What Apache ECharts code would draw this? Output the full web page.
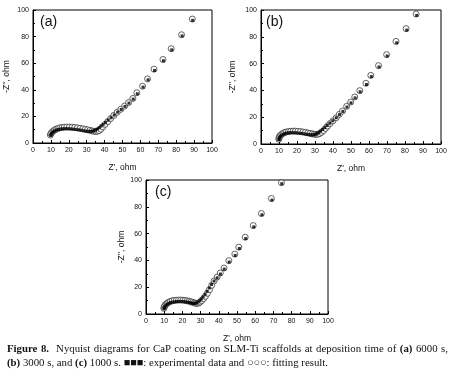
<!DOCTYPE html>
<html>
<head>
<meta charset="utf-8">
<script src="https://cdn.jsdelivr.net/npm/echarts@6/dist/echarts.min.js"></script>
<style>
html,body{margin:0;padding:0;background:#fff;}
#chart{position:absolute;left:0;top:0;width:455px;height:379px;}
#cap{position:absolute;left:7px;top:342px;width:441px;font-family:"Liberation Serif","DejaVu Serif",serif;font-size:10.8px;line-height:13.5px;color:#111;}
#cap .l1{display:block;text-align:justify;text-align-last:justify;white-space:nowrap;}
#cap .l2{display:block;white-space:nowrap;}
#cap b{font-weight:bold;}
</style>
</head>
<body>
<div id="chart"></div>
<div id="cap"><span class="l1"><b>Figure 8.</b>&nbsp; Nyquist diagrams for CaP coating on SLM-Ti scaffolds at deposition time of <b>(a)</b> 6000 s,</span><span class="l2"><b>(b)</b> 3000 s, and <b>(c)</b> 1000 s. ■■■: experimental data and ○○○: fitting result.</span></div>
<script>
// Panel (a) 6000 s
const fitA_x = [9.7, 10.0, 10.5, 11.2, 12.0, 12.9, 13.9, 15.0, 16.2, 17.5, 18.9, 20.3, 21.8, 23.3, 24.8, 26.3, 27.8, 29.2, 30.5, 31.8, 33.0, 34.1, 35.1, 36.0, 36.9, 37.9, 39.0, 40.3, 41.8, 43.4, 45.2, 47.1, 49.1, 51.2, 53.4, 55.8, 58.0, 61.2, 64.0, 67.6, 72.6, 77.2, 83.0, 89.0];
const fitA_y = [6.0, 7.0, 8.0, 8.9, 9.7, 10.4, 10.9, 11.4, 11.7, 11.9, 12.0, 12.0, 11.9, 11.7, 11.4, 11.1, 10.7, 10.3, 9.9, 9.5, 9.1, 8.8, 8.7, 8.8, 9.3, 10.4, 12.1, 14.0, 16.1, 18.4, 20.8, 23.2, 25.4, 27.8, 30.4, 33.5, 37.8, 42.7, 48.2, 55.5, 62.8, 70.9, 81.4, 93.2];
const expA_x = [9.9, 10.2, 10.7, 11.4, 12.2, 13.1, 14.1, 15.2, 16.4, 17.7, 19.1, 20.5, 22.0, 23.5, 25.0, 26.5, 28.0, 29.4, 30.7, 31.9, 33.0, 34.0, 35.0, 35.9, 36.9, 38.0, 39.2, 40.5, 42.0, 43.6, 45.4, 47.3, 49.3, 51.4, 53.6, 56.0, 58.3, 61.5, 64.3, 67.9, 72.9, 77.5, 83.3, 89.2];
const expA_y = [5.8, 6.8, 7.7, 8.5, 9.2, 9.8, 10.2, 10.5, 10.7, 10.8, 10.8, 10.7, 10.5, 10.3, 10.0, 9.7, 9.3, 9.0, 8.8, 8.7, 8.8, 9.1, 9.7, 10.5, 11.5, 12.7, 14.0, 15.5, 17.2, 19.0, 21.0, 23.2, 25.2, 27.5, 30.0, 33.0, 37.0, 42.0, 47.5, 54.5, 61.8, 70.0, 80.5, 92.2];

// Panel (b) 3000 s
const fitB_x = [9.9, 10.0, 10.3, 10.8, 11.5, 12.3, 13.2, 14.2, 15.3, 16.5, 17.8, 19.1, 20.5, 21.9, 23.3, 24.7, 26.0, 27.3, 28.5, 29.6, 30.6, 31.6, 32.6, 33.6, 34.7, 35.8, 37.0, 38.4, 40.0, 41.8, 43.5, 45.3, 47.6, 49.8, 52.1, 54.9, 58.3, 61.0, 65.3, 69.8, 75.0, 80.6, 86.2];
const fitB_y = [3.6, 4.6, 5.6, 6.5, 7.3, 8.0, 8.6, 9.0, 9.3, 9.5, 9.6, 9.6, 9.5, 9.3, 9.0, 8.7, 8.3, 7.9, 7.6, 7.3, 7.2, 7.3, 7.8, 8.7, 10.0, 11.6, 13.4, 15.3, 17.3, 19.6, 22.1, 24.6, 28.1, 31.3, 35.1, 39.8, 45.3, 51.2, 58.5, 66.7, 76.6, 86.1, 97.0];
const expB_x = [10.0, 10.1, 10.4, 10.9, 11.6, 12.4, 13.3, 14.3, 15.4, 16.6, 17.9, 19.2, 20.6, 22.0, 23.4, 24.8, 26.1, 27.3, 28.4, 29.4, 30.3, 31.2, 32.1, 33.1, 34.2, 35.4, 36.7, 38.2, 39.9, 41.8, 43.6, 45.5, 47.8, 50.0, 52.3, 55.1, 58.6, 61.3, 65.6, 70.1, 75.4, 81.0, 86.5];
const expB_y = [3.3, 4.3, 5.2, 6.0, 6.7, 7.3, 7.8, 8.2, 8.4, 8.5, 8.5, 8.4, 8.2, 8.0, 7.7, 7.4, 7.1, 6.9, 6.8, 6.9, 7.2, 7.8, 8.6, 9.6, 10.8, 12.2, 13.8, 15.5, 17.4, 19.6, 21.9, 24.3, 27.6, 30.7, 34.4, 39.0, 44.4, 50.3, 57.5, 65.7, 75.5, 85.0, 96.0];

// Panel (c) 1000 s
const fitC_x = [9.8, 10.0, 10.4, 11.0, 11.7, 12.5, 13.4, 14.4, 15.5, 16.7, 17.9, 19.1, 20.3, 21.5, 22.6, 23.7, 24.7, 25.6, 26.5, 27.3, 28.1, 28.9, 29.7, 30.6, 31.6, 32.6, 33.7, 34.9, 36.1, 37.4, 39.1, 40.8, 42.9, 45.5, 48.8, 51.0, 54.5, 58.9, 63.4, 68.9, 74.4];
const fitC_y = [4.2, 5.3, 6.3, 7.3, 8.1, 8.8, 9.4, 9.8, 10.1, 10.3, 10.4, 10.4, 10.3, 10.1, 9.8, 9.5, 9.1, 8.7, 8.3, 8.0, 7.9, 8.2, 8.9, 10.0, 11.4, 13.1, 15.4, 18.2, 21.4, 24.7, 27.6, 30.6, 34.3, 39.8, 44.7, 49.9, 57.3, 66.0, 75.0, 86.2, 98.0];
const expC_x = [9.9, 10.1, 10.5, 11.1, 11.8, 12.6, 13.5, 14.5, 15.6, 16.8, 18.0, 19.2, 20.4, 21.6, 22.7, 23.7, 24.6, 25.4, 26.2, 27.0, 27.8, 28.6, 29.5, 30.4, 31.4, 32.5, 33.6, 34.8, 36.0, 37.4, 39.1, 40.9, 43.0, 45.7, 49.0, 51.3, 54.8, 59.2, 63.7, 69.2, 74.6];
const expC_y = [3.9, 4.9, 5.8, 6.7, 7.4, 8.0, 8.5, 8.9, 9.1, 9.3, 9.4, 9.4, 9.3, 9.1, 8.9, 8.6, 8.3, 8.1, 7.9, 7.9, 8.2, 8.9, 9.9, 11.2, 12.8, 14.7, 16.9, 19.4, 22.0, 24.6, 27.0, 29.8, 33.5, 38.8, 43.7, 48.9, 56.3, 65.0, 74.0, 85.0, 97.2];

const panelLabels = ['(a)', '(b)', '(c)'];
const xTitle = "Z', ohm";
const yTitle = "-Z'', ohm";

const zip = (xs, ys) => xs.map((x, i) => [x, ys[i]]);
const FONT = '"Liberation Sans", Arial, sans-serif';

const grids = [
  {left: 33, top: 10, width: 179, height: 133},
  {left: 261, top: 10, width: 180, height: 134},
  {left: 146, top: 180, width: 182, height: 134}
];
const yGaps = [22, 24, 20];

function xAxis(i) {
  return {
    type: 'value', gridIndex: i, min: 0, max: 100, interval: 10,
    name: xTitle, nameLocation: 'middle', nameGap: 20,
    nameTextStyle: {fontFamily: FONT, fontSize: 8.5, color: '#111'},
    axisLine: {show: true, lineStyle: {color: '#000', width: 1}},
    axisTick: {show: true, inside: true, length: 3, lineStyle: {color: '#000'}},
    minorTick: {show: true, splitNumber: 2, length: 2, lineStyle: {color: '#000'}},
    axisLabel: {fontFamily: FONT, fontSize: 7, color: '#111', margin: 4},
    splitLine: {show: false}
  };
}
function yAxis(i) {
  return {
    type: 'value', gridIndex: i, min: 0, max: 100, interval: 20,
    name: yTitle, nameLocation: 'middle', nameGap: yGaps[i], nameRotate: 90,
    nameTextStyle: {fontFamily: FONT, fontSize: 8.5, color: '#111'},
    axisLine: {show: true, lineStyle: {color: '#000', width: 1}},
    axisTick: {show: true, inside: true, length: 3, lineStyle: {color: '#000'}},
    minorTick: {show: true, splitNumber: 2, length: 2, lineStyle: {color: '#000'}},
    axisLabel: {fontFamily: FONT, fontSize: 7, color: '#111', margin: 4},
    splitLine: {show: false}
  };
}
function fitSeries(i, data) {
  return {type: 'scatter', xAxisIndex: i, yAxisIndex: i, data: data, symbol: 'circle', symbolSize: 6,
    itemStyle: {color: '#fff', borderColor: '#111', borderWidth: 0.8}, z: 2, silent: true};
}
function expSeries(i, data) {
  return {type: 'scatter', xAxisIndex: i, yAxisIndex: i, data: data, symbol: 'rect', symbolSize: 3,
    itemStyle: {color: '#000'}, z: 3, silent: true};
}

const chart = echarts.init(document.getElementById('chart'), null, {renderer: 'canvas'});
chart.setOption({
  animation: false,
  backgroundColor: '#fff',
  title: [
    {text: panelLabels[0], left: 40, top: 15, padding: 0, textStyle: {fontFamily: FONT, fontSize: 14, fontWeight: 'normal', color: '#111'}},
    {text: panelLabels[1], left: 266, top: 15, padding: 0, textStyle: {fontFamily: FONT, fontSize: 14, fontWeight: 'normal', color: '#111'}},
    {text: panelLabels[2], left: 155, top: 185, padding: 0, textStyle: {fontFamily: FONT, fontSize: 14, fontWeight: 'normal', color: '#111'}}
  ],
  grid: grids.map(g => Object.assign({show: true, borderColor: '#000', borderWidth: 1, backgroundColor: 'transparent'}, g)),
  xAxis: [xAxis(0), xAxis(1), xAxis(2)],
  yAxis: [yAxis(0), yAxis(1), yAxis(2)],
  series: [
    fitSeries(0, zip(fitA_x, fitA_y)), expSeries(0, zip(expA_x, expA_y)),
    fitSeries(1, zip(fitB_x, fitB_y)), expSeries(1, zip(expB_x, expB_y)),
    fitSeries(2, zip(fitC_x, fitC_y)), expSeries(2, zip(expC_x, expC_y))
  ]
});
</script>
</body>
</html>
